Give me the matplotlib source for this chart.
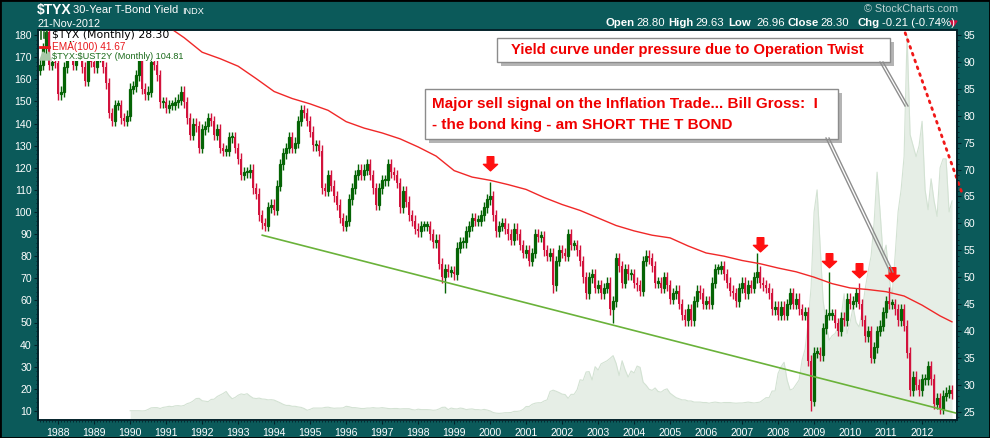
import numpy as np
import matplotlib.pyplot as plt
from matplotlib.patches import Rectangle, Polygon
from matplotlib.path import Path

plt.rcParams['font.family'] = ['Liberation Sans', 'DejaVu Sans']

# $TYX monthly closes (yield x10), Jul 1987 .. Nov 2012
tyx_87_94 = [89.5, 92.5, 95.5, 89.5, 90.0, 89.8,
             84.0, 84.5, 89.0, 91.5, 93.0, 89.5, 92.0, 92.5, 89.0, 86.5, 90.5, 90.0,
             89.0, 91.0, 91.0, 89.0, 86.0, 80.5, 79.0, 82.0, 82.0, 79.5, 79.0, 80.0,
             85.0, 85.5, 87.5, 90.5, 85.0, 84.0, 84.5, 90.0, 89.5, 87.5, 82.5, 82.5,
             81.5, 82.0, 82.0, 82.5, 83.0, 84.5, 82.5, 79.5, 76.5, 78.5, 78.0, 74.0,
             77.5, 78.0, 79.5, 79.0, 76.5, 77.5, 74.0, 73.5, 73.5, 76.0, 76.0, 74.0,
             72.0, 69.0, 69.5, 69.5, 70.0, 66.5, 65.5, 61.5, 60.0, 59.5, 63.0, 63.5,
             62.5, 67.0, 71.0, 73.0, 74.0, 76.0, 74.0, 75.0, 79.0, 81.0, 80.5, 79.0]
tyx_95_02 = [77.0, 74.5, 74.5, 73.5, 66.5, 66.0, 69.0, 67.0, 65.0, 63.5, 61.0, 59.5,
             60.5, 64.5, 66.5, 69.0, 70.0, 69.0, 70.0, 71.0, 69.0, 66.5, 63.5, 66.5,
             68.0, 68.0, 71.0, 69.5, 69.0, 67.5, 63.0, 66.0, 64.0, 61.5, 60.5, 59.0,
             58.5, 59.5, 59.5, 59.5, 58.0, 56.5, 57.0, 52.5, 50.0, 51.5, 51.0, 51.0,
             50.5, 55.5, 56.5, 56.5, 58.5, 59.5, 61.0, 60.5, 60.5, 61.5, 63.0, 64.5,
             65.0, 61.5, 58.5, 59.5, 60.0, 59.0, 58.0, 57.0, 59.0, 58.0, 56.0, 54.5,
             55.0, 53.0, 54.5, 58.0, 57.5, 57.5, 55.0, 54.0, 54.5, 48.5, 53.0, 55.0,
             54.5, 54.0, 58.0, 56.0, 56.0, 55.0, 53.0, 50.0, 47.0, 50.0, 50.5, 48.0]
tyx_03_12 = [48.5, 47.0, 48.0, 49.0, 44.0, 45.5, 53.5, 52.0, 49.0, 51.5, 50.5, 50.5,
             49.0, 48.5, 47.5, 53.0, 54.0, 53.5, 52.0, 49.0, 49.0, 48.0, 50.0, 48.5,
             46.0, 47.0, 47.5, 45.0, 43.0, 42.0, 44.0, 42.0, 45.5, 47.5, 47.0, 45.0,
             45.5, 45.0, 49.0, 51.5, 51.5, 52.0, 50.5, 49.0, 47.5, 47.0, 45.5, 48.0,
             49.0, 47.0, 48.5, 48.0, 50.0, 51.0, 49.0, 48.5, 48.0, 47.0, 44.0, 44.5,
             43.0, 44.5, 43.0, 45.0, 47.0, 45.0, 46.0, 44.0, 43.0, 43.5, 34.5, 27.0,
             36.0, 36.0, 35.5, 40.5, 43.0, 43.0, 43.0, 41.5, 40.0, 42.5, 42.0, 46.0,
             45.0, 45.5, 47.0, 45.0, 42.0, 39.0, 40.0, 35.0, 37.0, 40.0, 41.0, 43.5,
             45.5, 45.0, 45.0, 44.0, 42.0, 44.0, 41.0, 36.0, 29.0, 31.5, 30.0, 29.0,
             31.0, 31.0, 33.5, 31.0, 26.5, 27.5, 25.5, 28.0, 28.5, 29.0, 28.3]
first_open = 88.5

# long wicks (date, extreme)
spike_dates = [1998.75, 2000.0, 2001.75, 2003.42, 2007.42, 2008.92, 2009.42, 2010.25, 2011.08, 2012.5]
spike_values = [47.0, 67.7, 47.0, 41.5, 54.5, 25.2, 51.0, 48.9, 48.2, 24.5]

# EMA(100)
ema_t = [1990.5, 1991.0, 1991.5, 1992.0, 1992.5, 1993.0, 1993.5, 1994.0, 1994.5, 1995.0,
         1995.5, 1996.0, 1996.5, 1997.0, 1997.5, 1998.0, 1998.5, 1999.0, 1999.5, 2000.0,
         2000.5, 2001.0, 2001.5, 2002.0, 2002.5, 2003.0, 2003.5, 2004.0, 2004.5, 2005.0,
         2005.5, 2006.0, 2006.5, 2007.0, 2007.5, 2008.0, 2008.5, 2009.0, 2009.5, 2010.0,
         2010.5, 2011.0, 2011.5, 2012.0, 2012.5, 2012.83]
ema_v = [99.0, 96.8, 94.5, 91.8, 90.6, 89.2, 86.9, 84.5, 83.2, 82.2,
         81.0, 78.9, 77.7, 76.8, 75.7, 74.2, 72.5, 69.8, 68.6, 68.0,
         67.2, 66.3, 64.8, 63.5, 62.4, 61.0, 59.6, 58.6, 57.8, 57.3,
         55.8, 54.5, 53.9, 53.1, 52.5, 51.7, 51.0, 50.0, 48.8, 48.0,
         47.7, 47.3, 46.5, 44.8, 42.8, 41.7]

# $TYX:$UST2Y monthly ratio, Jan 1990 .. Nov 2012
ratio_90_99 = [10.1, 10.1, 10.1, 10.1, 10.0, 10.1, 10.7, 11.4, 11.5, 11.5, 11.1, 11.6,
               11.8, 12.1, 11.9, 12.3, 12.4, 12.2, 12.5, 13.3, 13.7, 14.5, 15.6, 15.7,
               14.6, 14.4, 14.2, 15.2, 15.3, 16.5, 17.2, 17.9, 18.8, 16.9, 15.5, 16.1,
               17.1, 17.7, 17.4, 17.8, 16.7, 15.8, 15.6, 15.8, 15.4, 15.3, 15.0, 15.1,
               14.9, 14.3, 13.7, 13.0, 12.5, 12.5, 12.1, 12.1, 11.8, 11.6, 11.1, 10.3,
               10.7, 11.3, 11.3, 11.3, 11.3, 11.6, 11.7, 11.4, 11.2, 11.3, 11.3, 11.4,
               12.1, 11.9, 11.5, 11.5, 11.3, 11.1, 11.1, 11.3, 11.3, 11.5, 11.3, 11.3,
               11.5, 11.3, 11.1, 11.0, 11.1, 11.1, 10.9, 11.0, 11.0, 11.0, 10.6, 10.4,
               10.8, 10.6, 10.6, 10.6, 10.5, 10.3, 10.4, 10.9, 11.6, 11.7, 10.6, 11.3,
               11.0, 10.9, 11.3, 11.1, 10.6, 10.8, 10.9, 10.6, 10.6, 10.4, 10.7, 10.4]
ratio_00_08 = [10.0, 9.3, 9.0, 8.9, 9.0, 9.2, 9.2, 9.3, 9.8, 9.8, 10.0, 10.7,
               12.0, 12.0, 13.0, 13.5, 13.7, 13.7, 14.5, 15.0, 18.8, 19.4, 18.9, 18.3,
               17.6, 17.4, 15.7, 17.5, 17.5, 19.6, 24.1, 23.8, 27.6, 27.8, 24.0, 30.0,
               28.5, 31.3, 32.0, 32.7, 33.8, 35.0, 31.5, 26.0, 32.7, 28.6, 25.3, 28.1,
               27.2, 30.3, 29.7, 23.0, 21.6, 19.8, 19.3, 20.4, 18.8, 18.5, 19.5, 20.0,
               18.0, 17.0, 16.0, 15.5, 15.0, 15.0, 14.5, 14.5, 14.0, 14.0, 14.0, 13.8,
               13.8, 13.5, 13.8, 14.0, 13.8, 13.6, 13.8, 13.8, 13.8, 13.6, 13.5, 13.6,
               13.6, 13.8, 14.0, 13.8, 13.6, 13.8, 14.0, 15.0, 16.0, 16.0, 19.0, 19.0,
               27.0, 30.0, 32.0, 24.0, 19.5, 20.0, 22.0, 24.0, 33.0, 38.0, 50.0, 66.0]
ratio_09_12 = [100, 110, 85, 60, 50, 42, 44, 45, 48, 52, 63, 45,
               50, 57, 50, 48, 55, 65, 73, 80, 95, 118, 100, 80,
               85, 70, 62, 80, 100, 110, 125, 180, 135, 130, 125, 130,
               141, 110, 101, 115, 105, 98, 120, 124, 124, 100, 105]

# trend lines (date, yield)
support_t = [1993.67, 2012.97]
support_v = [57.8, 24.7]
twist_t = [2011.53, 2013.1]
twist_v = [95.4, 65.8]

# sell-signal arrows (date, tip)
arrow_t = [2000.0, 2007.5, 2009.42, 2010.25, 2011.17]
arrow_v = [69.0, 53.9, 51.0, 49.1, 48.3]

years = list(range(1988, 2013))

# ---------------------------------------------------------------
W, H = 990, 438
BG = '#0b5a5a'
RED = '#d2123c'
GRN = '#056405'

def px(x, y):
    return x / W, 1 - y / H

fig = plt.figure(figsize=(W / 100, H / 100), dpi=100, facecolor=BG)
ax = fig.add_axes([38 / W, 1 - 420 / H, (957 - 38) / W, (420 - 30) / H])
ax.set_facecolor('white')
ax2 = ax.twinx()

close = np.array(tyx_87_94 + tyx_95_02 + tyx_03_12)
opn = np.r_[first_open, close[:-1]]
t = 1987 + (6 + np.arange(len(close))) / 12
hi = np.maximum(opn, close) + 1.0
lo = np.minimum(opn, close) - 1.0
for d, v in zip(spike_dates, spike_values):
    i = np.argmin(np.abs(t - d))
    if v > max(opn[i], close[i]):
        hi[i] = v
    else:
        lo[i] = v

ratio = np.array(ratio_90_99 + ratio_00_08 + ratio_09_12)
rt = 1990 + np.arange(len(ratio)) / 12
ax.fill_between(rt, 0, ratio, color='#e6eee6', lw=0)
ax.plot(rt, ratio, color='#d3e2d3', lw=0.8)

up = close >= opn
bw = 0.068
ax2.vlines(t[up], lo[up], hi[up], color=GRN, lw=1.0)
ax2.vlines(t[~up], lo[~up], hi[~up], color=RED, lw=1.0)
ax2.bar(t[up], np.maximum(close - opn, 0.3)[up], bottom=opn[up], width=bw,
        facecolor='white', edgecolor=GRN, lw=0.9)
ax2.bar(t[~up], (opn - close)[~up], bottom=close[~up], width=bw,
        color=RED, lw=0)

ax2.plot(ema_t, ema_v, color='#f02828', lw=1.0)
ax2.plot(support_t, support_v, color='#6ab23a', lw=1.2)
ax2.plot(twist_t, twist_v, color='#f01818', lw=2.0, ls=(0, (0.7, 1.9)),
         dash_capstyle='round', clip_on=False)

arrow = Path([(-0.28, 1.0), (0.28, 1.0), (0.28, 0.35), (0.6, 0.35), (0, -0.2),
              (-0.6, 0.35), (-0.28, 0.35), (-0.28, 1.0)],
             [Path.MOVETO] + [Path.LINETO] * 6 + [Path.CLOSEPOLY])
for d, v in zip(arrow_t, arrow_v):
    ax2.plot([d], [v + 1.3], marker=arrow, ms=17, color='#ff1010', mec='#ff1010')

# axes
ax.set_xlim(1987.44, 2012.97)
ax.set_ylim(5.9, 182.3)
ax2.set_ylim(23.46, 95.93)
ax.set_xticks(years)
ax.set_xticklabels([str(y) for y in years])
ax.set_xticks(np.arange(1987.5, 2013, 1 / 12), minor=True)
ax.set_yticks(range(10, 190, 10))
ax.set_yticks(range(10, 182, 2), minor=True)
ax2.set_yticks(range(25, 100, 5))
ax2.set_yticks(range(24, 96), minor=True)
for a in (ax, ax2):
    a.tick_params(which='major', colors='#03222a', labelcolor='white', labelsize=7.6,
                  length=3, width=0.8, pad=1.5)
    a.tick_params(which='minor', colors='#03222a', length=1.5, width=0.6)
    for s in a.spines.values():
        s.set_color('#03222a')
        s.set_linewidth(1.2)
ax.tick_params(axis='x', pad=3)

# header
fig.text(*px(37, 10), '\\$TYX', color='white', fontsize=10, fontweight='bold', va='center')
fig.text(*px(73, 10), '30-Year T-Bond Yield', color='white', fontsize=8.0, va='center')
fig.text(*px(182, 11), 'INDX', color='white', fontsize=6.6, va='center')
fig.text(*px(37, 24), '21-Nov-2012', color='white', fontsize=7.8, va='center')
fig.text(*px(958, 9), '\u00a9 StockCharts.com', color='#bcd0d0', fontsize=7.8,
         va='center', ha='right')
hdr = [(605, 'Open', True), (636, '28.80', False), (668, 'High', True), (695, '29.63', False),
       (728, 'Low', True), (756, '26.96', False), (788, 'Close', True), (820, '28.30', False),
       (857, 'Chg', True), (882, '-0.21 (-0.74%)', False)]
for x, s, b in hdr:
    fig.text(*px(x, 23), s, color='white', fontsize=8.2,
             fontweight='bold' if b else 'normal', va='center')
fig.patches.append(Polygon([px(950, 21), px(957, 21), px(953.5, 26)], closed=True,
                           transform=fig.transFigure, color='#d01040'))

# legend
leg = [('\\$TYX (Monthly) 28.30', 'black', 35.5, 7.8, 'DejaVu Sans'),
       ('EMA(100) 41.67', '#e8181c', 47, 7.2, 'Liberation Sans'),
       ('\\$TYX:\\$UST2Y (Monthly) 104.81', '#1a6a1a', 56.5, 6.6, 'Liberation Sans')]
for s, c, y, fs, fam in leg:
    fig.text(*px(52, y), s, color=c, fontsize=fs, va='center', family=fam,
             bbox=dict(facecolor='white', edgecolor='none', pad=0))
for xx, y0, y1 in [(41, 31, 39), (44, 32, 38), (47, 31, 39)]:
    fig.add_artist(plt.Line2D(*zip(px(xx, y0), px(xx, y1)), color='#1a6a1a', lw=1.2))
fig.add_artist(plt.Line2D(*zip(px(40, 47), px(49, 47)), color='#e8181c', lw=2))
fig.patches.append(Polygon([px(40, 60), px(43, 52), px(46, 55), px(49, 52), px(50, 60)],
                           closed=True, transform=fig.transFigure, color='#a8c8a8'))

# call-out boxes
def callout(x0, y0, x1, y1):
    fig.patches.append(Rectangle(px(x0 + 4, y1 + 4), (x1 - x0) / W, (y1 - y0) / H,
                                 transform=fig.transFigure, facecolor='#b4b4b4',
                                 edgecolor='none'))
    fig.patches.append(Rectangle(px(x0, y1), (x1 - x0) / W, (y1 - y0) / H,
                                 transform=fig.transFigure, facecolor='white',
                                 edgecolor='#8c8c8c', lw=1))

def leader(x0, y0, x1, y1):
    for d in (0, 3):
        fig.add_artist(plt.Line2D(*zip(px(x0 + d, y0), px(x1 + d, y1)),
                                  color='#8e8e8e', lw=1))

leader(880, 62, 905, 106)
callout(497, 38, 890, 62)
fig.text(*px(687, 50), 'Yield curve under pressure due to Operation Twist', color='#f00000',
         fontsize=10.6, fontweight='bold', ha='center', va='center')
leader(826, 138, 890, 272)
callout(425, 89, 838, 139)
fig.text(*px(432, 104), 'Major sell signal on the Inflation Trade... Bill Gross:  I',
         color='#f00000', fontsize=11, fontweight='bold', va='center')
fig.text(*px(432, 125), '- the bond king - am SHORT THE T BOND',
         color='#f00000', fontsize=11, fontweight='bold', va='center')

fig.patches.append(Rectangle((0, 0), 1, 1, transform=fig.transFigure, fill=False,
                             edgecolor='black', lw=2))
fig.savefig('out.png', dpi=100, facecolor=BG)
